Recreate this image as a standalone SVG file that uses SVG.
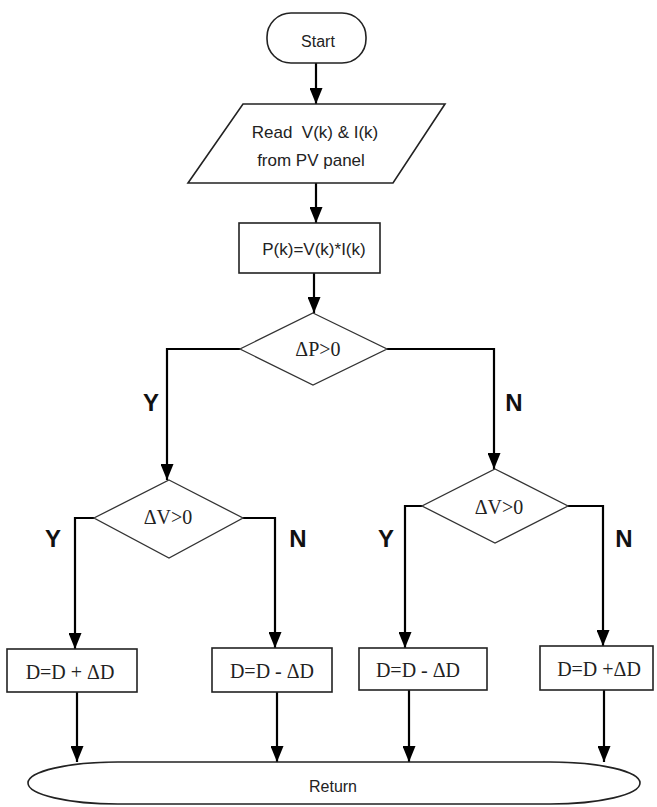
<svg xmlns="http://www.w3.org/2000/svg" width="657" height="807" viewBox="0 0 657 807">
<style>
.bg{fill:#ffffff}
.shape{fill:#ffffff;stroke:#222;stroke-width:1.6}
.dia{fill:#ffffff;stroke:#333;stroke-width:1.3}
.conn{fill:none;stroke:#000;stroke-width:2.2}
.t{font-family:"Liberation Sans",Arial,sans-serif;font-size:17px;fill:#222;text-anchor:middle;dominant-baseline:central;white-space:pre}
.ts{font-family:"Liberation Serif","Times New Roman",serif;font-size:20px;fill:#222;text-anchor:middle;dominant-baseline:central}
.yn{font-family:"Liberation Sans",Arial,sans-serif;font-size:24px;font-weight:bold;fill:#111;text-anchor:middle;dominant-baseline:central}
</style>
<defs>
<marker id="arr" markerUnits="userSpaceOnUse" markerWidth="16" markerHeight="13" refX="16" refY="6.5" orient="auto">
<path d="M0,0 L16,6.5 L0,13 z" fill="#000"/>
</marker>
</defs>
<rect class="bg" width="657" height="807"/>
<g id="connectors">
<path class="conn" d="M316,63 V104" marker-end="url(#arr)"/>
<path class="conn" d="M316,183 V223" marker-end="url(#arr)"/>
<path class="conn" d="M314,273 V313" marker-end="url(#arr)"/>
<path class="conn" d="M240,349 H167 V480" marker-end="url(#arr)"/>
<path class="conn" d="M387,349 H494 V469" marker-end="url(#arr)"/>
<path class="conn" d="M94,518 H75 V649" marker-end="url(#arr)"/>
<path class="conn" d="M243,518 H275 V648" marker-end="url(#arr)"/>
<path class="conn" d="M422,506 H405 V648" marker-end="url(#arr)"/>
<path class="conn" d="M568,506 H603 V646" marker-end="url(#arr)"/>
<path class="conn" d="M77,692 V762" marker-end="url(#arr)"/>
<path class="conn" d="M277,692 V762" marker-end="url(#arr)"/>
<path class="conn" d="M409,690 V762" marker-end="url(#arr)"/>
<path class="conn" d="M604,690 V762" marker-end="url(#arr)"/>
<text class="yn" x="151" y="402">Y</text>
<text class="yn" x="514" y="402">N</text>
<text class="yn" x="53" y="538">Y</text>
<text class="yn" x="298" y="538">N</text>
<text class="yn" x="386" y="538">Y</text>
<text class="yn" x="624" y="538">N</text>
</g>
<g id="start">
<rect class="shape" x="267" y="13" width="99" height="50" rx="24" ry="24"/>
<text class="t" x="318" y="41" style="font-size:16px">Start</text>
</g>
<g id="read">
<polygon class="shape" points="243,104 445,104 393,183 188,183"/>
<text class="t" x="315" y="132" xml:space="preserve">Read  V(k) &amp; I(k)</text>
<text class="t" x="311" y="160">from PV panel</text>
</g>
<g id="power">
<rect class="shape" x="239" y="223" width="141" height="50"/>
<text class="t" x="314" y="249">P(k)=V(k)*I(k)</text>
</g>
<g id="dp">
<polygon class="dia" points="313,313 387,349 313,385 240,349"/>
<text class="ts" x="318" y="349">ΔP&gt;0</text>
</g>
<g id="dv1">
<polygon class="dia" points="169,480 243,518 169,558 94,518"/>
<text class="ts" x="168" y="517">ΔV&gt;0</text>
</g>
<g id="dv2">
<polygon class="dia" points="495,469 568,506 495,543 422,506"/>
<text class="ts" x="499" y="507">ΔV&gt;0</text>
</g>
<g id="b1">
<rect class="shape" x="7" y="649" width="130" height="43"/>
<text class="ts" x="70" y="672">D=D + ΔD</text>
</g>
<g id="b2">
<rect class="shape" x="212" y="648" width="120" height="44"/>
<text class="ts" x="272" y="671">D=D - ΔD</text>
</g>
<g id="b3">
<rect class="shape" x="359" y="648" width="128" height="42"/>
<text class="ts" x="418" y="670">D=D - ΔD</text>
</g>
<g id="b4">
<rect class="shape" x="540" y="646" width="113" height="44"/>
<text class="ts" x="599" y="669">D=D +ΔD</text>
</g>
<g id="return">
<rect class="shape" x="28" y="762" width="612" height="42" rx="90" ry="21"/>
<text class="t" x="333" y="786" style="font-size:16px">Return</text>
</g>
</svg>
